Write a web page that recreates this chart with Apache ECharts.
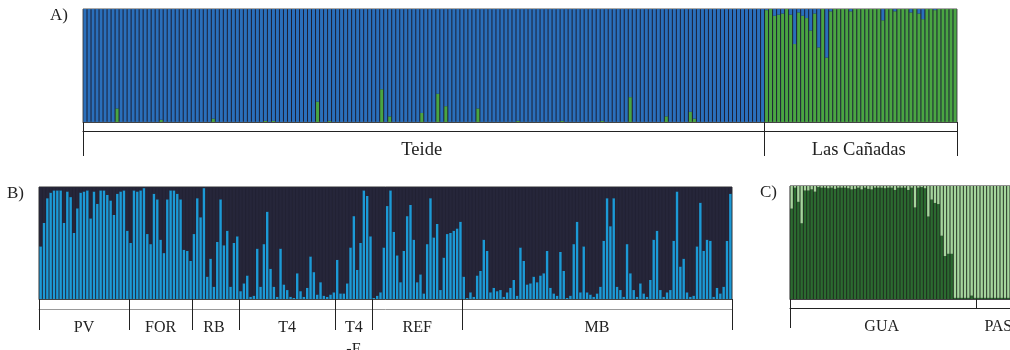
<!DOCTYPE html>
<html><head><meta charset="utf-8">
<script src="https://cdn.jsdelivr.net/npm/echarts@6/dist/echarts.min.js"></script>
<style>html,body{margin:0;padding:0;background:#fff}#c{width:1010px;height:350px}</style>
</head><body><div id="c"></div>
<script>
// ---- Panel A (K=2): green ancestry in Teide, blue ancestry in Las Cañadas ----
const teideGreen = [
0,0,0,0,0,0,0,0,0.12,0, 0,0,0,0,0,0,0,0,0,0.02,
0,0,0,0,0,0,0,0,0,0, 0,0,0.03,0,0,0,0,0,0,0,
0,0,0,0,0,0.01,0,0.01,0,0, 0,0,0,0,0,0,0,0,0.18,0,
0,0.01,0,0,0,0,0,0,0,0, 0,0,0,0,0.29,0,0.05,0,0,0,
0,0,0,0,0.08,0,0,0,0.25,0, 0.14,0,0,0,0,0,0,0,0.12,0,
0,0,0,0,0,0,0,0,0.01,0, 0,0,0,0,0,0,0,0,0,0.01,
0,0,0,0,0,0,0,0,0,0.01, 0,0,0,0,0,0,0.22,0,0,0,
0,0,0,0,0,0.05,0,0,0,0, 0,0.09,0.03,0,0,0,0,0,0,0,
0,0,0,0,0,0,0,0,0,0
];
const lasCanadasBlue = [
0.01,0,0.06,0.05,0.04,0,0.05,0.31,0.03,0.06,
0.08,0.19,0.04,0.34,0,0.43,0.02,0,0,0,
0,0.02,0,0,0,0,0,0,0,0.10,
0,0,0.02,0,0,0,0.03,0,0.04,0.09,
0,0,0.01,0,0,0,0,0
];
// ---- Panel B: light-blue cluster proportion per individual ----
const pvBlue  = [0.47,0.68,0.90,0.95,0.97,0.97,0.97,0.68,0.96,0.91,0.59,0.81,0.95,0.96,0.97,0.72,0.96,0.85,0.97,0.97,0.93,0.88,0.75,0.94,0.96,0.97,0.61];
const forBlue = [0.50,0.97,0.96,0.97,0.99,0.58,0.49,0.94,0.89,0.53,0.41,0.89,0.97,0.97,0.94,0.89,0.44,0.43,0.34];
const rbBlue  = [0.58,0.90,0.73,0.99,0.20,0.36,0.11,0.51,0.89,0.48,0.61,0.11,0.50,0.56];
const t4Blue  = [0.07,0.14,0.21,0.02,0.03,0.45,0.11,0.49,0.78,0.27,0.11,0.02,0.45,0.13,0.08,0.02,0.01,0.23,0.07,0.02,0.10,0.38,0.24,0.04,0.15,0.03,0.02,0.04,0.06];
const t4eBlue = [0.35,0.05,0.05,0.14,0.46,0.74,0.26,0.50,0.97,0.92,0.56];
const refBlue = [0.01,0.03,0.06,0.46,0.83,0.97,0.60,0.39,0.15,0.43,0.74,0.84,0.53,0.15,0.22,0.05,0.49,0.90,0.55,0.67,0.08,0.37,0.58,0.59,0.61,0.63,0.69];
const mbBlue  = [0.20,0.01,0.06,0.02,0.21,0.25,0.53,0.43,0.06,0.10,0.07,0.08,
0.02,0.06,0.10,0.17,0.03,0.46,0.34,0.13,0.14,0.20,
0.15,0.21,0.23,0.43,0.10,0.05,0.03,0.42,0.25,0.01,
0.03,0.49,0.69,0.06,0.47,0.06,0.04,0.02,0.05,0.11,
0.52,0.90,0.65,0.90,0.11,0.08,0.02,0.49,0.23,0.08,
0.02,0.14,0.05,0.02,0.17,0.53,0.61,0.08,0.02,0.06,
0.08,0.52,0.96,0.29,0.36,0.06,0.02,0.03,0.47,0.86,
0.43,0.53,0.52,0.02,0.10,0.05,0.11,0.52,0.94];
// ---- Panel C: dark-green cluster proportion per individual ----
const guaDark = [0.80,0.985,0.86,0.67,0.96,0.96,0.97,0.95,0.99,0.985,
0.985,0.98,0.985,0.975,0.985,0.985,0.985,0.98,0.97,0.975,
0.985,0.97,0.985,0.975,0.97,0.985,0.985,0.985,0.98,0.985,
0.985,0.965,0.985,0.985,0.985,0.965,0.985,0.81,0.985,0.99,
0.98,0.73,0.88,0.85,0.84,0.56,0.38,0.40,0.40,0.01,
0.01,0.01,0.01,0.01,0.03,0.01];
const pasDark = [0.01,0.01,0.01,0.01,0.01,0.01,0.01,0.01,0.01,0.01,0.01,0.01,0.01];

const groupsA = ['Teide','Las Cañadas'];
const groupsB = ['PV','FOR','RB','T4','T4\n-E','REF','MB'];
const groupsC = ['GUA','PAS'];

function buildPanel(prefix, names, arrays){
  const ids=[], bottom=[], starts=[], labelAt={};
  let k=0;
  arrays.forEach((arr,g)=>{
    starts.push(k);
    labelAt[k+Math.floor((arr.length-1)/2)] = names[g];
    arr.forEach(v=>{ids.push(prefix+(k+1)); bottom.push(v); k++;});
  });
  const top = bottom.map(v=>+(1-v).toFixed(3));
  return {ids,bottom,top,starts,labelAt};
}
const A = buildPanel('a', groupsA, [teideGreen, lasCanadasBlue.map(v=>+(1-v).toFixed(3))]);
const B = buildPanel('b', groupsB, [pvBlue,forBlue,rbBlue,t4Blue,t4eBlue,refBlue,mbBlue]);
const C = buildPanel('c', groupsC, [guaDark,pasDark]);

const serif = 'Liberation Serif';
function axesFor(P, gi, band, drop, fontSize, lineColor, dropStarts){
  return [
    {type:'category', gridIndex:gi, data:P.ids, position:'bottom',
     axisLine:{show:true, lineStyle:{color:'#444', width:1}},
     axisTick:{show:true, length:band, interval:(i)=>P.starts.includes(i), lineStyle:{color:'#222', width:1}},
     axisLabel:{show:false}, splitLine:{show:false}},
    {type:'category', gridIndex:gi, data:P.ids, position:'bottom', offset:band,
     axisLine:{show:true, lineStyle:{color:lineColor, width:1}},
     axisTick:{show:true, length:drop, interval:(i)=>dropStarts.includes(i), lineStyle:{color:'#222', width:1}},
     axisLabel:{show:true, interval:(i)=>P.labelAt[i]!==undefined, formatter:(v,i)=>P.labelAt[i]||'',
       margin:8, fontFamily:serif, fontSize:fontSize, color:'#222', lineHeight:22},
     splitLine:{show:false}}
  ];
}
const xAxis = [].concat(
  axesFor(A,0,9,25,18.5,'#222',A.starts),
  axesFor(B,1,10,21,16,'#999',B.starts),
  axesFor(C,2,9,20,16,'#222',[0])
);
const yAxis = [0,1,2].map(g=>({type:'value', gridIndex:g, min:0, max:1, show:false}));
const bw = 3.3333;
const grid = [
  {left:83, top:9, width:874, height:113, show:true, backgroundColor:'#1b2036', borderColor:'#555', borderWidth:1, outerBoundsMode:'none', containLabel:false},
  {left:39, top:187, width:693, height:112, show:true, backgroundColor:'#222233', borderColor:'#333', borderWidth:1, outerBoundsMode:'none', containLabel:false},
  {left:790, top:186, width:(C.ids.length*bw), height:113, show:true, backgroundColor:'#1e2a1e', borderColor:'#222', borderWidth:1, outerBoundsMode:'none', containLabel:false}
];
function pair(P, xi, yi, cBottom, cTop, gap, st){
  return [
    {type:'bar', xAxisIndex:xi, yAxisIndex:yi, stack:st, data:P.bottom, barCategoryGap:gap, itemStyle:{color:cBottom}, silent:true},
    {type:'bar', xAxisIndex:xi, yAxisIndex:yi, stack:st, data:P.top, barCategoryGap:gap, itemStyle:{color:cTop}, silent:true}
  ];
}
const series = [].concat(
  pair(A,0,0,'#4aa542','#2a6fbb','25%','a'),
  pair(B,2,1,'#1c9ad6','#26263a','28%','b'),
  pair(C,4,2,'#2b6a30','#a6d59d','28%','c')
);
const tStyle = {fontFamily:serif, fontSize:17, fontWeight:'normal', color:'#222'};
const option = {
  animation:false,
  backgroundColor:'#fff',
  title:[
    {text:'A)', left:50, top:7, padding:0, textStyle:tStyle},
    {text:'B)', left:7, top:185, padding:0, textStyle:tStyle},
    {text:'C)', left:760, top:184, padding:0, textStyle:tStyle}
  ],
  grid, xAxis, yAxis, series
};
echarts.init(document.getElementById('c'), null, {renderer:'canvas'}).setOption(option);
</script></body></html>
